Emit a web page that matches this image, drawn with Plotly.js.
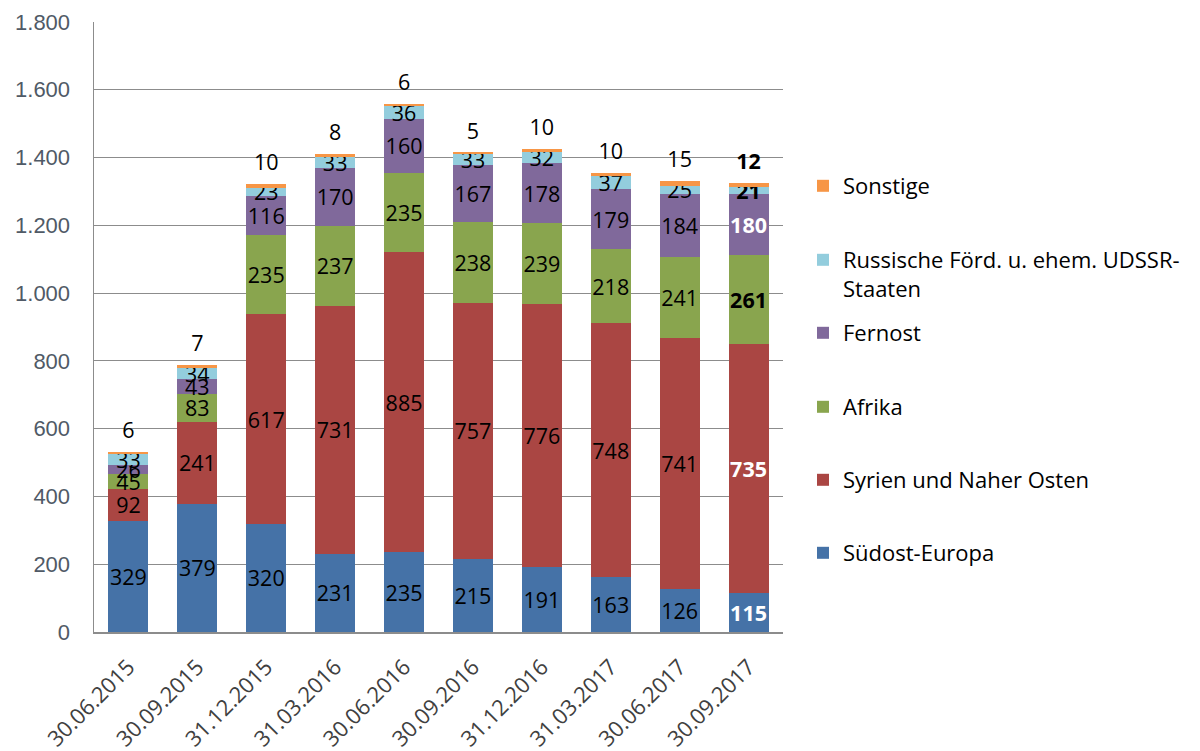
<!DOCTYPE html>
<html><head><meta charset="utf-8">
<script src="https://cdn.plot.ly/plotly-3.0.1.min.js"></script>
<style>body{margin:0;background:#fff}#c{width:1200px;height:751px}</style>
</head><body><div id="c"></div>
<script>
const dates = ["30.06.2015","30.09.2015","31.12.2015","31.03.2016","30.06.2016","30.09.2016","31.12.2016","31.03.2017","30.06.2017","30.09.2017"];
const suedost = [329,379,320,231,235,215,191,163,126,115];
const syrien = [92,241,617,731,885,757,776,748,741,735];
const afrika = [45,83,235,237,235,238,239,218,241,261];
const fernost = [26,43,116,170,160,167,178,179,184,180];
const russ = [33,34,23,33,36,33,32,37,25,21];
const sonstige = [6,7,10,8,6,5,10,10,15,12];
const seriesNames = ["Südost-Europa","Syrien und Naher Osten","Afrika","Fernost","Russische Förd. u. ehem. UDSSR-<br>Staaten","Sonstige"];
const colors = ["#4572A7","#AA4643","#89A54E","#80699B","#93CDDD","#F79646"];
const lastColors = ["#ffffff","#ffffff","#000000","#ffffff","#000000","#000000"];
const allVals = [suedost,syrien,afrika,fernost,russ,sonstige];
const FONT = "Open Sans, Noto Sans, sans-serif";
const legendY = [553,480,407,333,260,186];
const LBL = 21.5;

const traces = allVals.map((vals,i)=>{
  const n = vals.length;
  const isTop = i===5;
  return {
    type:'bar', x:dates, y:vals, name:seriesNames[i],
    marker:{color:colors[i]},
    text: isTop ? undefined : vals.map((v,j)=> j===n-1 ? '<b>'+v+'</b>' : String(v)),
    textposition: isTop ? 'none' : 'inside',
    insidetextanchor:'middle',
    textangle:0,
    constraintext:'none',
    cliponaxis:false,
    textfont:{family:FONT,size:LBL,color: vals.map((v,j)=> j===n-1 ? lastColors[i] : '#000')},
    legend: i===0 ? 'legend' : 'legend'+(i+1),
    hoverinfo:'none'
  };
});
// Labels of the top segment (Sonstige), placed above the stack totals
const totals = dates.map((d,j)=> allVals.reduce((s,a)=>s+a[j],0));
traces.push({
  type:'scatter', mode:'markers+text', x:dates, y:totals,
  text: sonstige.map((v,j)=> j===sonstige.length-1 ? '<b>'+v+'</b>' : String(v)),
  textposition:'top center',
  marker:{size:12, opacity:0},
  textfont:{family:FONT,size:LBL,color:'#000'},
  showlegend:false, hoverinfo:'none', cliponaxis:false
});

const layout = {
  width:1200, height:751,
  barmode:'stack', bargap:0.42,
  separators:',.',
  margin:{l:94,r:417,t:22,b:119,autoexpand:false},
  paper_bgcolor:'#fff', plot_bgcolor:'#fff',
  font:{family:FONT,size:20,color:'#000'},
  xaxis:{type:'category', range:[-0.5,9.5], tickangle:-45, tickfont:{family:FONT,size:22,color:'#404040'}, ticklabelstandoff:12, showline:true, linecolor:'#8c8c8c', linewidth:1.5, ticks:'', showgrid:false, automargin:false},
  yaxis:{range:[0,1800], dtick:200, tickformat:',d', tickfont:{family:'Liberation Sans, Arial, sans-serif',size:22,color:'#505a66'}, ticklabelstandoff:18,
         showgrid:true, gridcolor:'#8c8c8c', gridwidth:1.2, showline:true, linecolor:'#8c8c8c', linewidth:1.5, zeroline:false, ticks:'', ticklen:0, automargin:false},
  showlegend:true
};
for(let i=0;i<6;i++){
  const key = i===0 ? 'legend' : 'legend'+(i+1);
  layout[key] = {x:803/1200, xref:'container', y:1-legendY[i]/751, yref:'container', yanchor:'middle', xanchor:'left', bgcolor:'rgba(0,0,0,0)', font:{family:FONT,size:22,color:'#000'}, itemwidth:30, valign:'top'};
  if(i===4){ layout[key].yanchor='top'; layout[key].y = 1-(legendY[i]-21)/751; }
}
Plotly.newPlot('c', traces, layout, {staticPlot:true});
</script></body></html>
